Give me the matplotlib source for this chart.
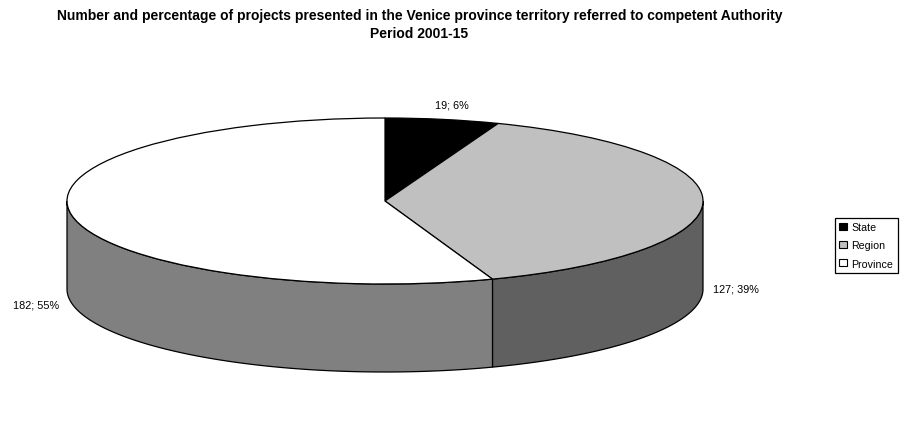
import numpy as np
import matplotlib
matplotlib.use("Agg")
import matplotlib.pyplot as plt
from matplotlib.patches import Patch

categories = ["State", "Region", "Province"]
values = [19, 127, 182]
percent_labels = ["6%", "39%", "55%"]
title = ("Number and percentage of projects presented in the Venice province "
         "territory referred to competent Authority\nPeriod 2001-15")

W, H = 900, 435
CX, CY, RX, RY, DEPTH = 385.0, 202.0, 318.0, 83.0, 88.0
top_colors = ["#000000", "#c0c0c0", "#ffffff"]
side_colors = [None, "#606060", "#808080"]

plt.rcParams["font.family"] = ["Liberation Sans", "DejaVu Sans"]
fig = plt.figure(figsize=(W / 100, H / 100), dpi=100, facecolor="white")
ax = fig.add_axes([0, 0, 1, 1])

# Top face: a real pie, squashed into an ellipse by the axes scale
wedges, _ = ax.pie(values, colors=top_colors, startangle=90, counterclock=False,
                   radius=1.0, wedgeprops=dict(edgecolor="black", linewidth=0.9, zorder=3))
ax.set_aspect("auto")
ax.set_xlim(-CX / RX, (W - CX) / RX)
ax.set_ylim((CY - H) / RY, CY / RY)
ax.axis("off")

# Side wall: follows the visible (front) arc of each slice
d = DEPTH / RY
cum = np.cumsum([0] + values) / sum(values) * 2 * np.pi
for i in range(len(values)):
    if side_colors[i] is None:
        continue
    a0 = max(cum[i], np.pi / 2)
    a1 = min(cum[i + 1], 3 * np.pi / 2)
    t = np.linspace(a0, a1, 200)
    x, y = np.sin(t), np.cos(t)
    ax.fill(np.r_[x, x[::-1]], np.r_[y, y[::-1] - d], facecolor=side_colors[i],
           edgecolor="black", linewidth=0.9, zorder=2)

fig.text(419.5 / W, 1 - 25 / H, title, ha="center", va="center", fontsize=9.97,
         fontweight="bold", linespacing=1.42)

label_pos = [(452, 106), (736, 290), (36, 305)]
for v, p, (px, py) in zip(values, percent_labels, label_pos):
    fig.text(px / W, 1 - py / H, f"{v}; {p}", ha="center", va="center", fontsize=7.8)

handles = [Patch(facecolor=c, edgecolor="black", linewidth=0.8) for c in top_colors]
leg = fig.legend(handles, categories, loc="center left",
                 bbox_to_anchor=(835 / W, 1 - 246.5 / H), fontsize=7.7, frameon=True,
                 fancybox=False, edgecolor="black", framealpha=1, handlelength=0.68,
                 handleheight=0.68, handletextpad=0.45, labelspacing=0.75,
                 borderpad=0.4, borderaxespad=0)
leg.get_frame().set_linewidth(0.9)

fig.savefig("out.png", dpi=100, facecolor="white")
